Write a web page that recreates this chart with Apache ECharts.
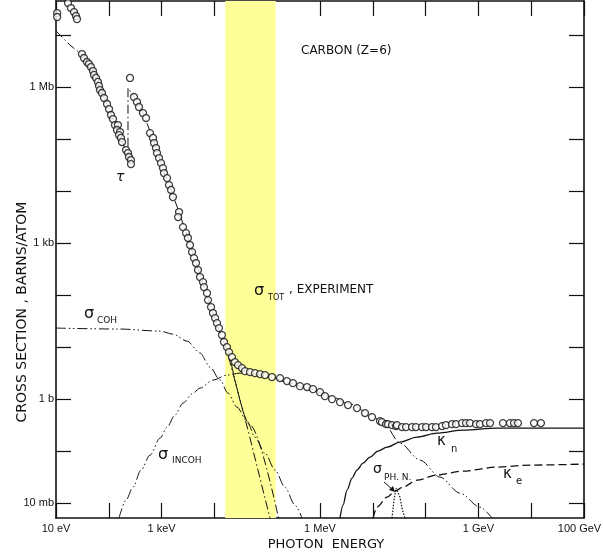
<!DOCTYPE html>
<html>
<head>
<meta charset="utf-8">
<script src="https://cdn.jsdelivr.net/npm/echarts@6/dist/echarts.min.js"></script>
<style>
html,body{margin:0;padding:0;background:#fff}
#chart{width:603px;height:558px}
</style>
</head>
<body>
<div id="chart"></div>
<script>
// ---- data (energy in eV, cross section in barns) ----
const expE = [10.5,10.5,16.9,19.2,21.9,23.9,25.0,
  31.0,33.9,38.6,42.2,46.0,50.2,52.5,57.3,62.4,65.2,68.1,74.3,81.1,92.5,101,110,120,131,149,143,163,156,170,178,212,231,241,263,263,
  252,300,342,373,444,507,603,687,718,783,818,893,975,1060,1110,1270,1380,1510,1640,2140,2050,2540,2900,3160,3450,3770,4110,4480,4890,5340,6080,6350,7240,7570,8630,9400,
  1.03e4,1.12e4,1.22e4,1.39e4,1.52e4,1.73e4,1.89e4,2.15e4,2.45e4,2.80e4,3.33e4,3.80e4,4.72e4,5.87e4,7.31e4,9.08e4,1.23e5,1.75e5,2.37e5,3.08e5,4.18e5,5.68e5,7.37e5,
  1.00e6,1.24e6,1.69e6,2.39e6,3.39e6,5.02e6,7.12e6,9.66e6,1.37e7,1.49e7,1.78e7,1.94e7,2.31e7,2.75e7,2.87e7,3.57e7,4.26e7,5.53e7,6.58e7,8.55e7,
  1.02e8,1.32e8,1.57e8,2.05e8,2.43e8,3.16e8,3.77e8,4.89e8,5.82e8,6.93e8,9.02e8,1.07e9,1.39e9,1.66e9,2.92e9,3.96e9,4.72e9,5.62e9,1.13e10,1.53e10];
const expSigma = [2.62e7,2.20e7,4.09e7,3.27e7,2.74e7,2.30e7,2.01e7,
  4.27e6,3.58e6,3.00e6,2.74e6,2.40e6,2.01e6,1.69e6,1.48e6,1.24e6,1.04e6,8.67e5,7.60e5,6.09e5,4.67e5,3.74e5,2.87e5,2.40e5,1.84e5,1.84e5,1.48e5,1.35e5,1.18e5,1.04e5,8.67e4,6.09e4,5.33e4,4.47e4,3.91e4,3.27e4,
  1.48e6,6.37e5,5.10e5,4.09e5,3.13e5,2.51e5,1.29e5,1.04e5,8.30e4,6.65e4,5.33e4,4.27e4,3.42e4,2.74e4,2.20e4,1.76e4,1.29e4,1.04e4,7.60e3,3.91e3,3.13e3,2.01e3,1.54e3,1.24e3,908,665,510,409,300,220,176,141,108,79.4,58.3,44.7,
  35.8,28.7,23.0,16.9,12.4,9.91,7.94,6.37,5.10,4.47,3.91,3.42,3.27,3.13,3.00,2.87,2.63,2.51,2.20,2.01,1.76,1.69,1.54,
  1.35,1.13,0.99,0.867,0.760,0.665,0.533,0.447,0.374,0.358,0.327,0.327,0.313,0.300,0.313,0.287,0.287,0.287,0.287,0.287,
  0.287,0.287,0.287,0.300,0.313,0.327,0.327,0.343,0.343,0.343,0.327,0.327,0.343,0.343,0.343,0.343,0.343,0.343,0.343,0.343];

// photoelectric tau (with K edge)
const tauE = [10,18.4,31.0,50.2,68.1,92.5,120,156,194,231,231,313,444,603,818,1110,1510,2140,3160,4480,6350,9400,1.28e4,1.66e4,4.33e4,1.23e5];
const tauSigma = [1.18e7,6.37e6,4.09e6,2.01e6,9.49e5,4.67e5,2.40e5,1.29e5,7.28e4,5.57e4,9.49e5,6.09e5,3.13e5,1.41e5,6.09e4,2.30e4,1.04e4,3.91e3,1.24e3,409,141,44.7,18.4,9.91,0.251,0.00358];

// second steep branch through the shaded band
const steepE = [1.81e4,4.72e4,1.75e5];
const steepSigma = [9.49,0.313,0.00374];

const cohE = [10,163,933,1640,3030,5340,8260,1.28e4,1.81e4,2.68e4,4.14e4,5.87e4,9.08e4,1.41e5,2.17e5,3.36e5,4.56e5];
const cohSigma = [23.0,22.0,20.1,17.6,12.9,7.60,4.09,2.30,1.29,0.695,0.374,0.184,0.0907,0.0428,0.0201,0.00907,0.0051];

const incohE = [156,212,287,407,603,933,1270,1790,2540,3770,5340,9400,1.73e4,3.05e4,5.87e4,1.13e5,2.70e5,6.47e5,1.55e6,3.70e6,8.85e6,1.70e7,3.27e7,7.84e7,1.87e8,4.49e8,1.07e9,1.81e9];
const incohSigma = [0.0051,0.0113,0.0201,0.0428,0.0830,0.176,0.287,0.488,0.830,1.24,1.61,2.30,2.87,3.13,3.00,2.63,2.01,1.54,1.13,0.794,0.510,0.313,0.141,0.0665,0.0313,0.0154,0.0083,0.0051];

const kappaNE = [2.39e6,2.73e6,3.25e6,4.04e6,5.02e6,6.52e6,8.85e6,1.25e7,1.86e7,3.27e7,6.87e7,1.64e8,5.11e8,2.25e9,9.49e9,1e11];
const kappaNSigma = [0.0051,0.00907,0.0176,0.0300,0.0428,0.0582,0.0760,0.0991,0.118,0.148,0.184,0.220,0.251,0.274,0.274,0.274];

const kappaEE = [1.01e7,1.20e7,1.86e7,2.63e7,3.73e7,6.87e7,1.64e8,5.11e8,2.25e9,9.49e9,1e11];
const kappaESigma = [0.0051,0.0083,0.0129,0.0169,0.0201,0.0274,0.0343,0.0409,0.0488,0.0533,0.0557];

const phnE = [2.31e7,2.52e7,2.75e7,3.00e7,3.27e7,3.57e7,4.07e7];
const phnSigma = [0.0051,0.0113,0.0193,0.0193,0.0129,0.0079,0.0051];

const bandE = [1.6e4, 1.45e5];

const xTickE = [1e1,1e2,1e3,1e4,1e5,1e6,1e7,1e8,1e9,1e10,1e11];
const xLabelE = [1e1,1e3,1e6,1e9,1e11];
const xLabelText = ['10 eV','1 keV','1 MeV','1 GeV','100 GeV'];
const yTickS = [1e-2,1e-1,1,10,1e2,1e3,1e4,1e5,1e6,1e7];
const yLabelS = [1e-2,1,1e3,1e6];
const yLabelText = ['10 mb','1 b','1 kb','1 Mb'];
const xRange = [1e1, 1e11];
const yRange = [10**-2.29, 10**7.65];

// ---- helpers ----
const lg = v => Math.log10(v);
const pts = (E,S) => E.map((e,i)=>[lg(e), lg(S[i])]);
const lab = (vals, texts) => v => { const i = vals.findIndex(a=>Math.abs(lg(a)-v)<1e-6); return i<0?'':texts[i]; };
const F = 'DejaVu Sans';
const FL = 'Liberation Sans';
const txt = (x,y,s,size,extra) => ({type:'text', x, y, z:50, style:Object.assign({text:s, fill:'#111', font:`${size}px "${F}"`, textVerticalAlign:'middle'}, extra||{})});

const axisCommon = {
  type:'value', splitLine:{show:false},
  axisLine:{show:true, onZero:false, lineStyle:{color:'#111', width:1.6}},
  axisTick:{show:true, inside:true, length:15, lineStyle:{color:'#111', width:1.2}}
};
const line = (name, E, S, type, w, smooth) => ({
  name, type:'line', data:pts(E,S), showSymbol:false, symbol:'none', z:3, silent:true,
  smooth:smooth||false, smoothMonotone:'x',
  lineStyle:{color:'#111', width:w||1, type}
});
// last x label sits against the page edge: nudge it left a little
const xFmt = v => { const s = lab(xLabelE, xLabelText)(v); return Math.abs(v - lg(xRange[1])) < 1e-6 ? `{last|${s}}` : s; };

const chart = echarts.init(document.getElementById('chart'));
chart.setOption({
  animation:false,
  backgroundColor:'#fff',
  grid:{left:56, right:19, top:1, bottom:40, outerBoundsMode:'none', containLabel:false},
  xAxis:[
    Object.assign({}, axisCommon, {position:'bottom', min:lg(xRange[0]), max:lg(xRange[1]),
      axisTick:Object.assign({}, axisCommon.axisTick, {customValues:xTickE.map(lg)}),
      axisLabel:{customValues:xLabelE.map(lg), formatter:xFmt, color:'#111', fontFamily:FL, fontSize:11, margin:5,
        rich:{last:{fontFamily:FL, fontSize:11, color:'#111', padding:[0,9,0,0]}}}}),
    Object.assign({}, axisCommon, {position:'top', min:lg(xRange[0]), max:lg(xRange[1]),
      axisTick:Object.assign({}, axisCommon.axisTick, {customValues:xTickE.map(lg)}),
      axisLabel:{show:false}})
  ],
  yAxis:[
    Object.assign({}, axisCommon, {position:'left', min:lg(yRange[0]), max:lg(yRange[1]),
      axisTick:Object.assign({}, axisCommon.axisTick, {customValues:yTickS.map(lg)}),
      axisLabel:{customValues:yLabelS.map(lg), formatter:lab(yLabelS, yLabelText), color:'#111', fontFamily:FL, fontSize:11, margin:2}}),
    Object.assign({}, axisCommon, {position:'right', min:lg(yRange[0]), max:lg(yRange[1]),
      axisTick:Object.assign({}, axisCommon.axisTick, {customValues:yTickS.map(lg)}),
      axisLabel:{show:false}})
  ],
  series:[
    {type:'line', data:[], z:0, silent:true,
      markArea:{silent:true, itemStyle:{color:'#ffff99'},
        data:[[{xAxis:lg(bandE[0]), yAxis:lg(yRange[0])},{xAxis:lg(bandE[1]), yAxis:lg(yRange[1])}]]}},
    line('tau', tauE, tauSigma, [9,3,1.5,3]),
    line('steep', steepE, steepSigma, [9,3,1.5,3], 1, 0.3),
    line('coh', cohE, cohSigma, [10,3,1.5,2.5,1.5,3], 1, 0.3),
    line('incoh', incohE, incohSigma, [10,3,1.5,2.5,1.5,3], 1, 0.3),
    line('kappa_n', kappaNE, kappaNSigma, 'solid', 1.3, 0.3),
    line('kappa_e', kappaEE, kappaESigma, [8,4], 1.3, 0.3),
    line('phn', phnE, phnSigma, [1.5,1.5], 1.2),
    {name:'exp', type:'scatter', data:pts(expE, expSigma), symbol:'circle', symbolSize:7, z:5, silent:true,
      itemStyle:{color:'#fff', borderColor:'#111', borderWidth:1.3}}
  ],
  graphic:[
    txt(301, 51, 'CARBON (Z=6)', 12),
    txt(254, 291, 'σ', 16),
    txt(268, 298, 'TOT', 8),
    txt(289, 290, ', EXPERIMENT', 12),
    txt(84, 314, 'σ', 16),
    txt(97, 321, 'COH', 9),
    txt(116, 177, 'τ', 14, {font:`italic 14px "${F}"`}),
    txt(158, 455, 'σ', 16),
    txt(172, 461, 'INCOH', 9),
    txt(437, 441, 'κ', 15),
    txt(451, 449, 'n', 10),
    txt(503, 474, 'κ', 15),
    txt(516, 481, 'e', 10),
    txt(373, 469, 'σ', 14),
    txt(384, 478, 'PH. N.', 9),
    {type:'line', z:50, shape:{x1:384, y1:482, x2:393, y2:490}, style:{stroke:'#111', lineWidth:1}},
    {type:'polygon', z:50, shape:{points:[[395,492],[389,490],[393,486]]}, style:{fill:'#111'}},
    txt(326, 545, 'PHOTON  ENERGY', 13, {textAlign:'center'}),
    {type:'text', x:22, y:312, rotation:Math.PI/2, z:50,
      style:{text:'CROSS SECTION , BARNS/ATOM', fill:'#111', font:`14px "${F}"`, textAlign:'center', textVerticalAlign:'middle'}}
  ]
});
</script>
</body>
</html>
